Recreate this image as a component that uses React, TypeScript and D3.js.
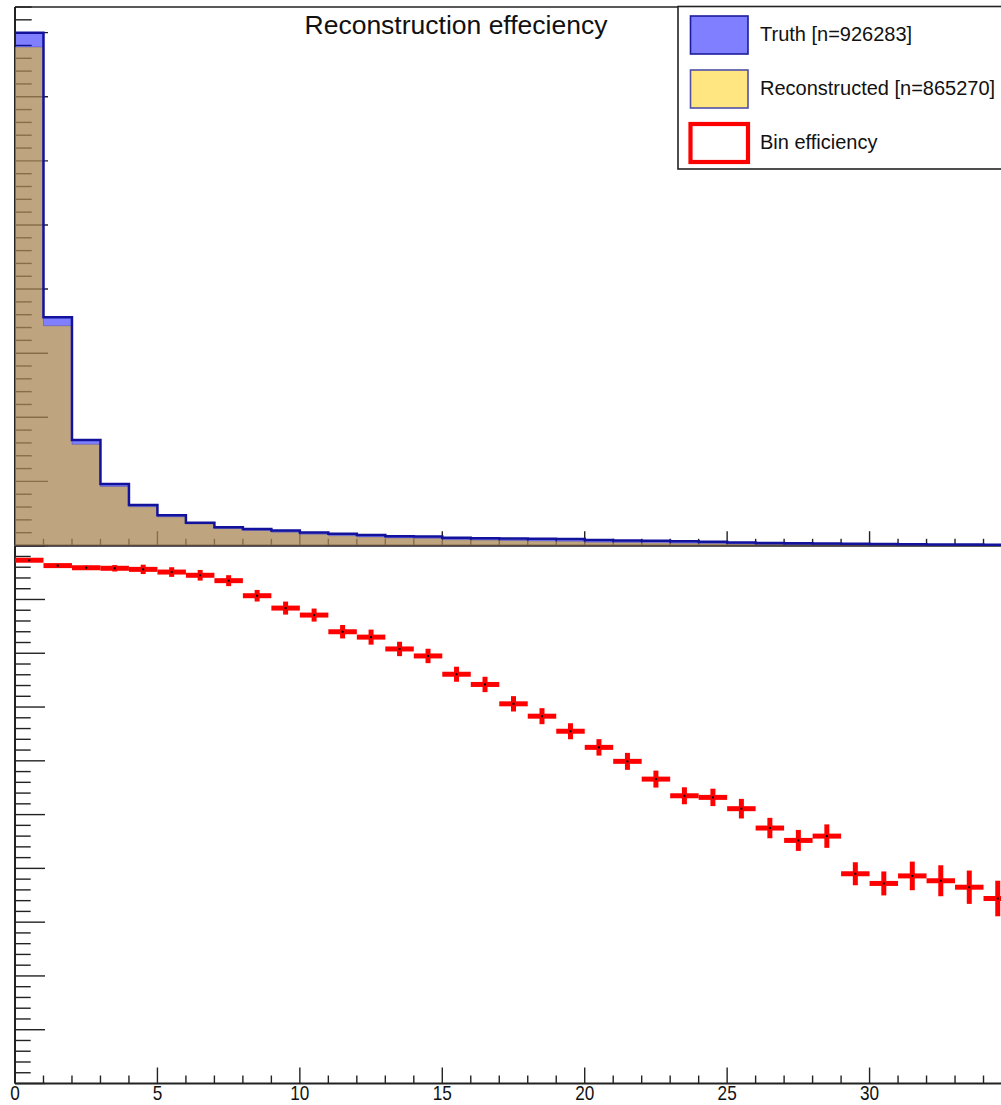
import React from "react";
import * as d3 from "d3";

// Per-bin contents, bins of width 1 starting at 0
const truthCounts = [
  400000, 178000, 82300, 48000, 31600, 23500, 17800, 14200, 12900, 11700,
  10100, 9100, 8100, 7300, 7000, 6000, 5700, 5500, 5200, 5000,
  4200, 3900, 3700, 3400, 2900, 2300, 2000, 1700, 1500, 1300,
  1100, 950, 800, 700, 600,
];
const recoCounts = [
  388800, 171400, 78900, 46000, 30200, 22350, 16800, 13280, 11700, 10340,
  8800, 7640, 6720, 5900, 5570, 4570, 4230, 3880, 3550, 3280,
  2630, 2340, 2090, 1820, 1540, 1180, 950, 770, 690, 510,
  410, 370, 300, 255, 205,
];
const efficiency = [
  0.973, 0.963, 0.959, 0.958, 0.956, 0.951, 0.945, 0.935, 0.907, 0.884,
  0.871, 0.84, 0.83, 0.808, 0.795, 0.761, 0.742, 0.706, 0.683, 0.655,
  0.625, 0.599, 0.566, 0.535, 0.532, 0.511, 0.475, 0.452, 0.46, 0.39,
  0.372, 0.386, 0.377, 0.365, 0.344,
];
const efficiencyErr = [
  0.002, 0.003, 0.004, 0.006, 0.0087, 0.009, 0.0099, 0.0102, 0.0108, 0.0121,
  0.0121, 0.0125, 0.014, 0.0134, 0.0134, 0.014, 0.0143, 0.0143, 0.0149, 0.0149,
  0.0153, 0.0158, 0.0158, 0.0158, 0.0162, 0.0182, 0.019, 0.0195, 0.0218, 0.0214,
  0.0223, 0.0266, 0.0288, 0.031, 0.0331,
];
const xTickLabels = [0, 5, 10, 15, 20, 25, 30, 35];
const legendLabels = ["Truth [n=926283]", "Reconstructed [n=865270]", "Bin efficiency"];
const titleText = "Reconstruction effeciency";

const W = 1001;
const H = 1105;
const FONT = "'Liberation Sans', Arial, Helvetica, sans-serif";

const x = d3.scaleLinear().domain([0, 35]).range([15, 1012]);
const yTop = d3.scaleLinear().domain([0, 420000]).range([545.5, 7]);
const yEff = d3.scaleLinear().domain([0, 1]).range([1083.5, 545.7]);

type Pt = { x: number; y: number };
const stepPoints = (vals: number[]): Pt[] => [
  ...vals.map((v, i) => ({ x: i, y: v })),
  { x: vals.length, y: vals[vals.length - 1] },
];

const stepArea = d3
  .area<Pt>()
  .x((d) => x(d.x))
  .y0(yTop(0))
  .y1((d) => yTop(d.y))
  .curve(d3.curveStepAfter);
const stepLine = d3
  .line<Pt>()
  .x((d) => x(d.x))
  .y((d) => yTop(d.y))
  .curve(d3.curveStepAfter);

const AXIS = "#222";

function TopPad() {
  const yMinor = d3.range(0, 420001, 10000);
  const xMinor = d3.range(0, 36, 1);
  return (
    <g>
      {/* y axis ticks */}
      {yMinor.map((v) => {
        const major = v % 50000 === 0;
        return (
          <line
            key={"yt" + v}
            x1={x(0)}
            x2={x(0) + (major ? 33 : 16.7)}
            y1={yTop(v)}
            y2={yTop(v)}
            stroke={AXIS}
            strokeWidth={1.4}
          />
        );
      })}
      {/* x axis ticks */}
      {xMinor.map((v) => {
        const major = v % 5 === 0;
        return (
          <line
            key={"xt" + v}
            x1={x(v)}
            x2={x(v)}
            y1={yTop(0)}
            y2={yTop(0) - (major ? 14.3 : 6.7)}
            stroke={AXIS}
            strokeWidth={1.4}
          />
        );
      })}
      <line x1={x(0)} x2={x(0)} y1={yTop(420000)} y2={yTop(0)} stroke={AXIS} strokeWidth={2} />
      <line x1={x(0)} x2={x(35)} y1={yTop(420000)} y2={yTop(420000)} stroke={AXIS} strokeWidth={1.6} />
      <line x1={x(0)} x2={x(35)} y1={yTop(0)} y2={yTop(0)} stroke={AXIS} strokeWidth={2} />

      {/* histograms */}
      <path d={stepArea(stepPoints(truthCounts)) || ""} fill="rgba(0,0,255,0.5)" />
      <path d={stepArea(stepPoints(recoCounts)) || ""} fill="rgba(255,204,0,0.5)" />
      <path d={stepLine(stepPoints(recoCounts)) || ""} fill="none" stroke="rgba(40,40,150,0.3)" strokeWidth={1} />
      <path d={stepLine(stepPoints(truthCounts)) || ""} fill="none" stroke="#12129c" strokeWidth={2.5} />
    </g>
  );
}

function BottomPad() {
  const yMinor = d3.range(0, 51, 1).map((i) => i / 50);
  const xMinor = d3.range(0, 36, 1);
  return (
    <g>
      {yMinor.map((v, i) => {
        const major = i % 5 === 0;
        return (
          <line
            key={"eyt" + i}
            x1={x(0)}
            x2={x(0) + (major ? 30 : 15.7)}
            y1={yEff(v)}
            y2={yEff(v)}
            stroke={AXIS}
            strokeWidth={1.4}
          />
        );
      })}
      {xMinor.map((v) => {
        const major = v % 5 === 0;
        return (
          <line
            key={"ext" + v}
            x1={x(v)}
            x2={x(v)}
            y1={yEff(0)}
            y2={yEff(0) - (major ? 16 : 8)}
            stroke={AXIS}
            strokeWidth={1.4}
          />
        );
      })}
      <line x1={x(0)} x2={x(0)} y1={yEff(1)} y2={yEff(0)} stroke={AXIS} strokeWidth={2} />
      <line x1={x(0)} x2={x(35)} y1={yEff(0)} y2={yEff(0)} stroke={AXIS} strokeWidth={2} />
      <line x1={x(0)} x2={x(35)} y1={yEff(1)} y2={yEff(1)} stroke={AXIS} strokeWidth={1.6} />

      {xTickLabels.map((v) => (
        <text
          key={"xl" + v}
          x={x(v)}
          y={1100.5}
          textAnchor="middle"
          fontFamily={FONT}
          fontSize={20}
          transform={`translate(${x(v)},0) scale(0.86,1) translate(${-x(v)},0)`}
          fill="#111"
        >
          {v}
        </text>
      ))}

      {/* efficiency points with error bars */}
      {efficiency.map((e, i) => {
        const cx = x(i + 0.5);
        const cy = yEff(e);
        const err = efficiencyErr[i];
        return (
          <g key={"ep" + i}>
            <line x1={x(i)} x2={x(i + 1)} y1={cy} y2={cy} stroke="#ff0000" strokeWidth={5} />
            <line x1={cx} x2={cx} y1={yEff(e + err)} y2={yEff(e - err)} stroke="#ff0000" strokeWidth={5} />
            <rect x={cx - 1} y={cy - 1} width={2} height={2} fill="#000" />
          </g>
        );
      })}
    </g>
  );
}

function Legend() {
  const rows = [
    { fill: "#7f7fff", stroke: "#1c1c9c", sw: 1.6, y: 16 },
    { fill: "#ffe680", stroke: "#5050a8", sw: 1.6, y: 70 },
    { fill: "#ffffff", stroke: "#ff0000", sw: 4.2, y: 124 },
  ];
  return (
    <g>
      <rect x={678} y={6.5} width={340} height={162.5} fill="#fff" stroke="#222" strokeWidth={1.6} />
      {rows.map((r, i) => (
        <g key={"lg" + i}>
          <rect x={690.5} y={r.y} width={57.5} height={38} fill={r.fill} stroke={r.stroke} strokeWidth={r.sw} />
          <text x={760} y={r.y + 24.5} fontFamily={FONT} fontSize={20} fill="#111">
            {legendLabels[i]}
          </text>
        </g>
      ))}
    </g>
  );
}

export default function App() {
  return (
    <svg
      width={W}
      height={H}
      viewBox={`0 0 ${W} ${H}`}
      style={{ position: "absolute", left: 0, top: 0, background: "#fff" }}
    >
      <rect x={0} y={0} width={W} height={H} fill="#fff" />
      <BottomPad />
      <TopPad />
      <Legend />
      <text x={456} y={34} textAnchor="middle" fontFamily={FONT} fontSize={26.5} fill="#111">
        {titleText}
      </text>
    </svg>
  );
}
